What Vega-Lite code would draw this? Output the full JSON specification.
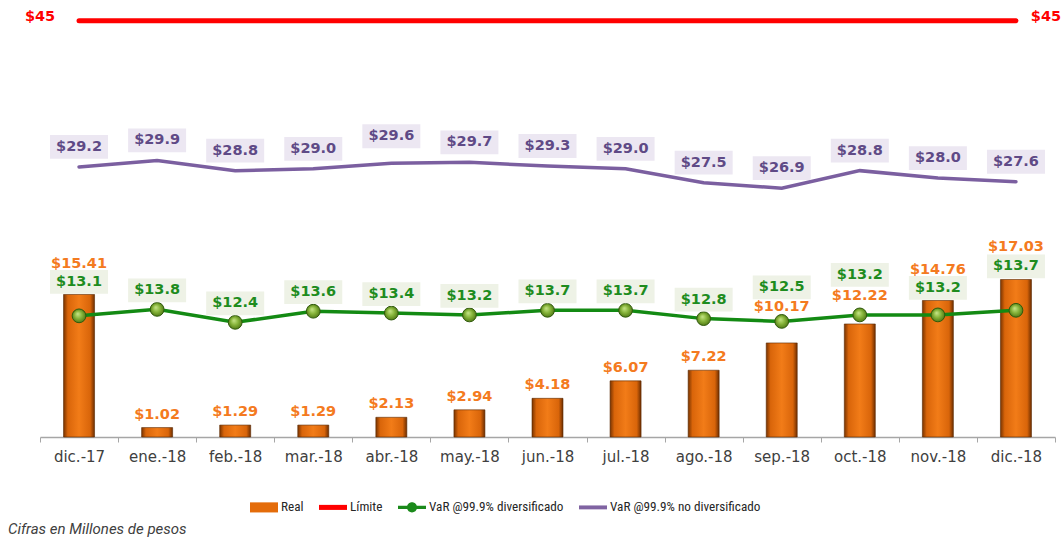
{
  "$schema": "https://vega.github.io/schema/vega-lite/v6.json",
  "autosize": "none",
  "width": 1015,
  "height": 437,
  "padding": {"left": 40, "top": 0, "right": 8, "bottom": 105},
  "background": "white",
  "data": {
    "values": [
      {"month": "dic.-17", "real": 15.41, "div": 13.1, "nodiv": 29.2, "limite": 45},
      {"month": "ene.-18", "real": 1.02, "div": 13.8, "nodiv": 29.9, "limite": 45},
      {"month": "feb.-18", "real": 1.29, "div": 12.4, "nodiv": 28.8, "limite": 45},
      {"month": "mar.-18", "real": 1.29, "div": 13.6, "nodiv": 29.0, "limite": 45},
      {"month": "abr.-18", "real": 2.13, "div": 13.4, "nodiv": 29.6, "limite": 45},
      {"month": "may.-18", "real": 2.94, "div": 13.2, "nodiv": 29.7, "limite": 45},
      {"month": "jun.-18", "real": 4.18, "div": 13.7, "nodiv": 29.3, "limite": 45},
      {"month": "jul.-18", "real": 6.07, "div": 13.7, "nodiv": 29.0, "limite": 45},
      {"month": "ago.-18", "real": 7.22, "div": 12.8, "nodiv": 27.5, "limite": 45},
      {"month": "sep.-18", "real": 10.17, "div": 12.5, "nodiv": 26.9, "limite": 45},
      {"month": "oct.-18", "real": 12.22, "div": 13.2, "nodiv": 28.8, "limite": 45},
      {"month": "nov.-18", "real": 14.76, "div": 13.2, "nodiv": 28.0, "limite": 45},
      {"month": "dic.-18", "real": 17.03, "div": 13.7, "nodiv": 27.6, "limite": 45}
    ]
  },
  "encoding": {
    "x": {
      "field": "month",
      "type": "nominal",
      "sort": null,
      "scale": {"paddingInner": 0, "paddingOuter": 0},
      "axis": {
        "title": null,
        "labelAngle": 0,
        "labelFont": "DejaVu Sans",
        "labelFontSize": 15,
        "labelColor": "#404040",
        "labelPadding": 7,
        "tickBand": "extent",
        "tickSize": 5,
        "tickColor": "#a6a6a6",
        "domainColor": "#a6a6a6",
        "domainWidth": 1.5,
        "grid": false
      }
    }
  },
  "layer": [
    {
      "mark": {
        "type": "bar",
        "width": 31,
        "stroke": "#5a2800",
        "strokeWidth": 0.6,
        "color": {
          "x1": 0, "y1": 0, "x2": 1, "y2": 0,
          "gradient": "linear",
          "stops": [
            {"offset": 0, "color": "#7a3400"},
            {"offset": 0.14, "color": "#d9650a"},
            {"offset": 0.5, "color": "#f27c18"},
            {"offset": 0.86, "color": "#d9650a"},
            {"offset": 1, "color": "#6e2e00"}
          ]
        }
      },
      "encoding": {
        "y": {"field": "real", "type": "quantitative", "scale": {"domain": [0, 47.25], "nice": false, "zero": true}, "axis": null}
      }
    },
    {
      "mark": {"type": "line", "strokeWidth": 5, "strokeCap": "round"},
      "encoding": {
        "y": {"field": "limite", "type": "quantitative"},
        "color": {
          "datum": "Límite",
          "scale": {
            "domain": ["Real", "Límite", "VaR @99.9% diversificado", "VaR @99.9% no diversificado"],
            "range": ["#e46c0a", "#ff0000", "#1b8a1b", "#8064a2"]
          },
          "legend": {
            "orient": "none",
            "legendX": 210,
            "legendY": 493,
            "direction": "horizontal",
            "title": null,
            "symbolSize": 784,
            "symbolStrokeWidth": 0,
            "symbolOpacity": 1,
            "labelOffset": 3,
            "columnPadding": 15,
            "labelFont": "Roboto Condensed, Roboto",
            "labelFontSize": 13.2,
            "labelColor": "#262626",
            "labelLimit": 300,
            "encode": {
              "symbols": {
                "update": {
                  "shape": {"signal": "datum.value === 'Real' ? 'M-1,-0.36H1V0.36H-1Z' : datum.value === 'Límite' ? 'M-1,-0.18H1V0.18H-1Z' : datum.value === 'VaR @99.9% diversificado' ? 'M-1,-0.11H1V0.11H-1Z M-0.36,0A0.36,0.36 0 1,1 0.36,0A0.36,0.36 0 1,1 -0.36,0Z' : 'M-1,-0.14H1V0.14H-1Z'"},
                  "fill": {"scale": "color", "field": "value"},
                  "fillOpacity": {"value": 1},
                  "strokeWidth": {"value": 0}
                }
              }
            }
          }
        }
      }
    },
    {
      "mark": {"type": "line", "color": "#7b5fa0", "strokeWidth": 3.5, "strokeCap": "round"},
      "encoding": {"y": {"field": "nodiv", "type": "quantitative"}}
    },
    {
      "mark": {"type": "line", "color": "#138a13", "strokeWidth": 3.5, "strokeCap": "round"},
      "encoding": {"y": {"field": "div", "type": "quantitative"}}
    },
    {
      "mark": {
        "type": "point",
        "shape": "circle",
        "size": 190,
        "filled": true,
        "opacity": 1,
        "stroke": "#2f5a0c",
        "strokeWidth": 1,
        "fill": {
          "gradient": "radial",
          "x1": 0.4, "y1": 0.35, "r1": 0,
          "x2": 0.5, "y2": 0.5, "r2": 0.55,
          "stops": [
            {"offset": 0, "color": "#c8e68a"},
            {"offset": 0.5, "color": "#86b43a"},
            {"offset": 1, "color": "#4a7212"}
          ]
        }
      },
      "encoding": {"y": {"field": "div", "type": "quantitative"}}
    },
    {
      "mark": {
        "type": "point",
        "shape": "M-1,-0.41H1V0.41H-1Z",
        "size": 3364,
        "filled": true,
        "opacity": 1,
        "color": "#ece7f2",
        "yOffset": {"expr": "datum.month === 'abr.-18' ? -27 : -20"}
      },
      "encoding": {"y": {"field": "nodiv", "type": "quantitative"}}
    },
    {
      "mark": {
        "type": "text",
        "font": "DejaVu Sans",
        "fontSize": 14.5,
        "fontWeight": "bold",
        "color": "#5f4a86",
        "baseline": "middle",
        "dy": {"expr": "datum.month === 'abr.-18' ? -27 : -20"}
      },
      "encoding": {
        "y": {"field": "nodiv", "type": "quantitative"},
        "text": {"field": "nodiv", "type": "quantitative", "format": "$.1f"}
      }
    },
    {
      "mark": {
        "type": "text",
        "font": "DejaVu Sans",
        "fontSize": 14.5,
        "fontWeight": "bold",
        "color": "#f47a20",
        "baseline": "middle",
        "dy": {"expr": "datum.month === 'dic.-17' ? -30 : datum.month === 'sep.-18' ? -36 : datum.month === 'oct.-18' ? -28 : datum.month === 'nov.-18' ? -30 : datum.month === 'dic.-18' ? -32 : -13"}
      },
      "encoding": {
        "y": {"field": "real", "type": "quantitative"},
        "text": {"field": "real", "type": "quantitative", "format": "$.2f"}
      }
    },
    {
      "mark": {
        "type": "point",
        "shape": "M-1,-0.41H1V0.41H-1Z",
        "size": 3364,
        "filled": true,
        "opacity": 1,
        "color": "#eef2e6",
        "yOffset": {"expr": "datum.month === 'dic.-17' ? -34 : datum.month === 'sep.-18' ? -34 : datum.month === 'oct.-18' ? -40 : datum.month === 'nov.-18' ? -27 : datum.month === 'dic.-18' ? -44 : -19"}
      },
      "encoding": {"y": {"field": "div", "type": "quantitative"}}
    },
    {
      "mark": {
        "type": "text",
        "font": "DejaVu Sans",
        "fontSize": 14.5,
        "fontWeight": "bold",
        "color": "#1e8c1e",
        "baseline": "middle",
        "dy": {"expr": "datum.month === 'dic.-17' ? -34 : datum.month === 'sep.-18' ? -34 : datum.month === 'oct.-18' ? -40 : datum.month === 'nov.-18' ? -27 : datum.month === 'dic.-18' ? -44 : -19"}
      },
      "encoding": {
        "y": {"field": "div", "type": "quantitative"},
        "text": {"field": "div", "type": "quantitative", "format": "$.1f"}
      }
    },
    {
      "transform": [{"filter": "datum.month === 'dic.-17' || datum.month === 'dic.-18'"}],
      "mark": {
        "type": "text",
        "font": "DejaVu Sans",
        "fontSize": 14.5,
        "fontWeight": "bold",
        "color": "#ff0000",
        "baseline": "middle",
        "dy": -4,
        "dx": {"expr": "datum.month === 'dic.-17' ? -39 : 30"}
      },
      "encoding": {
        "y": {"field": "limite", "type": "quantitative"},
        "text": {"field": "limite", "type": "quantitative", "format": "$.0f"}
      }
    }
  ],
  "title": {
    "text": "Cifras en Millones de pesos",
    "orient": "bottom",
    "anchor": "start",
    "frame": "group",
    "dx": -32,
    "offset": 8,
    "font": "Roboto",
    "fontSize": 15,
    "fontStyle": "italic",
    "fontWeight": "normal",
    "color": "#404040"
  },
  "config": {"view": {"stroke": null}}
}
